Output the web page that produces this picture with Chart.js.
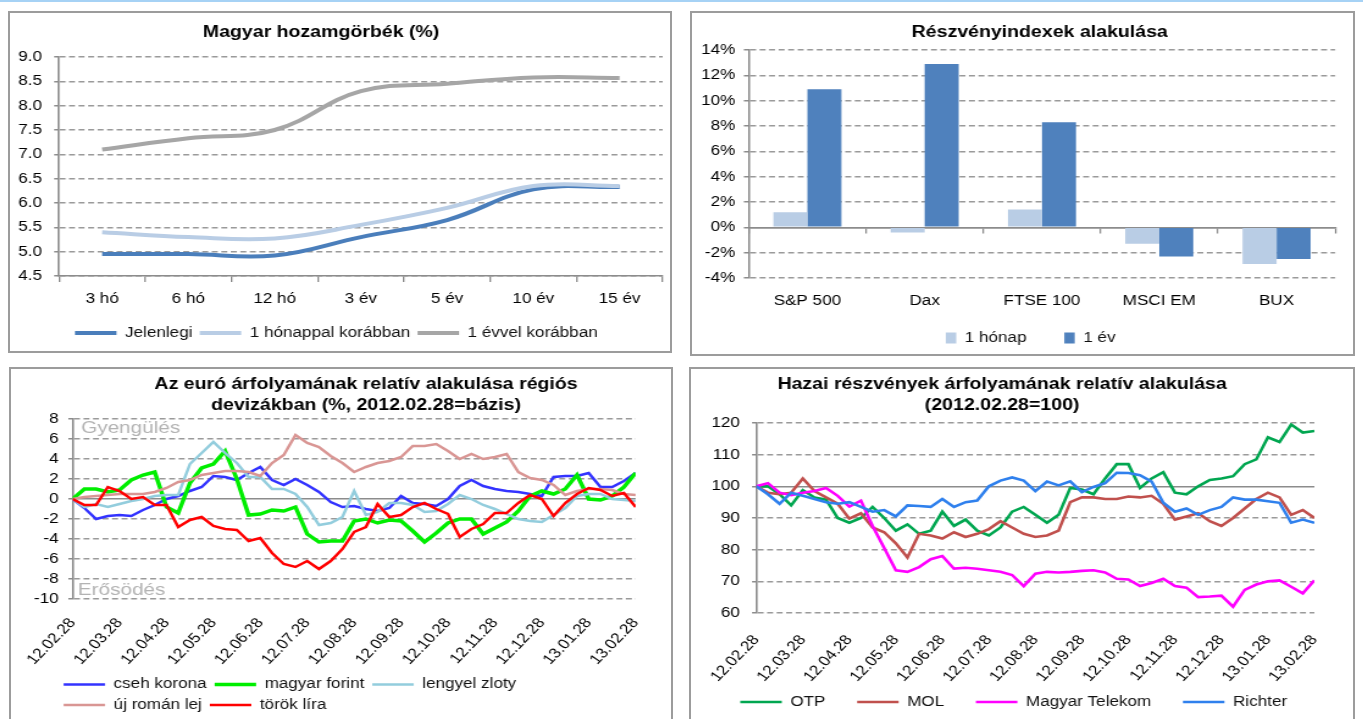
<!DOCTYPE html>
<html lang="hu">
<head>
<meta charset="utf-8">
<title>Piaci grafikonok</title>
<script src="https://cdn.jsdelivr.net/npm/chart.js@4.4.1/dist/chart.umd.min.js"></script>
<style>
  html, body { margin: 0; padding: 0; background: #fff; }
  body { width: 1363px; height: 719px; position: relative; overflow: hidden; }
  .topline { position: absolute; left: 0; top: 0; width: 1363px; height: 2px; background: #a6d2f5; }
  .panel { position: absolute; border: 2px solid #9c9c9c; box-sizing: border-box; overflow: hidden; background: #fff; }
  /* the source picture is drawn wide, so each canvas is stretched sideways */
  .stretch { position: absolute; left: 0; top: 0; transform-origin: 0 0; transform: scaleX(1.22); }
  canvas { display: block; }
</style>
</head>
<body>
<div class="topline"></div>
<div class="panel" style="left:8px;top:11px;width:664px;height:342px"><div class="stretch"><canvas id="yieldChart" width="541" height="338"></canvas></div></div>
<div class="panel" style="left:690px;top:11px;width:665px;height:345px"><div class="stretch"><canvas id="indexChart" width="542" height="341"></canvas></div></div>
<div class="panel" style="left:9px;top:367px;width:664px;height:360px"><div class="stretch"><canvas id="fxChart" width="541" height="356"></canvas></div></div>
<div class="panel" style="left:689px;top:367px;width:666px;height:360px"><div class="stretch"><canvas id="stockChart" width="543" height="356"></canvas></div></div>

<script>
// yield curves
const tenors = ['3 hó', '6 hó', '12 hó', '3 év', '5 év', '10 év', '15 év'];
const yieldNow = [4.95, 4.95, 4.92, 5.3, 5.65, 6.28, 6.33];
const yieldMonthAgo = [5.4, 5.3, 5.27, 5.55, 5.9, 6.35, 6.35];
const yieldYearAgo = [7.1, 7.33, 7.5, 8.3, 8.45, 8.58, 8.57];

// stock indices (%)
const indexNames = ['S&P 500', 'Dax', 'FTSE 100', 'MSCI EM', 'BUX'];
const indexMonth = [1.2, -0.4, 1.4, -1.3, -2.9];
const indexYear = [10.9, 12.9, 8.3, -2.3, -2.5];

// time axis: months after 2012.02.28
const monthTicks = [0, 1, 2, 3, 4, 5, 6, 7, 8, 9, 10, 11, 12];
const monthLabels = ['12.02.28', '12.03.28', '12.04.28', '12.05.28', '12.06.28', '12.07.28',
  '12.08.28', '12.09.28', '12.10.28', '12.11.28', '12.12.28', '13.01.28', '13.02.28'];
const sampleMonths = [0, 0.25, 0.5, 0.75, 1, 1.25, 1.5, 1.75, 2, 2.25, 2.5, 2.75,
  3, 3.25, 3.5, 3.75, 4, 4.25, 4.5, 4.75, 5, 5.25, 5.5, 5.75,
  6, 6.25, 6.5, 6.75, 7, 7.25, 7.5, 7.75, 8, 8.25, 8.5, 8.75,
  9, 9.25, 9.5, 9.75, 10, 10.25, 10.5, 10.75, 11, 11.25, 11.5, 11.75, 12];

// euro vs regional currencies (%)
const fxCzk = [0, -0.9, -2.0, -1.7, -1.6, -1.7, -1.1, -0.6, 0.0, 0.3, 0.8, 1.2,
  2.3, 2.2, 1.9, 2.6, 3.2, 1.9, 1.4, 2.0, 1.4, 0.7, -0.3, -0.8,
  -0.7, -1.0, -1.2, -0.9, 0.3, -0.4, -0.5, -0.7, 0.0, 1.3, 1.9, 1.3,
  1.0, 0.8, 0.7, 0.5, 0.3, 2.2, 2.3, 2.3, 2.6, 1.2, 1.2, 1.8, 2.6];
const fxHuf = [0, 1.0, 1.0, 0.7, 0.9, 1.9, 2.4, 2.7, -0.8, -1.4, 1.6, 3.1,
  3.5, 4.8, 2.0, -1.6, -1.5, -1.1, -1.2, -0.8, -3.5, -4.3, -4.2, -4.2,
  -2.2, -2.0, -2.4, -2.1, -2.2, -3.2, -4.3, -3.4, -2.4, -2.0, -2.0, -3.5,
  -2.9, -2.3, -1.2, 0.3, 0.8, 0.5, 1.0, 2.4, 0.0, -0.1, 0.3, 1.2, 2.6];
const fxPln = [0, -0.8, -0.5, -0.8, -0.5, -0.2, 0.0, 0.3, 0.4, 0.4, 3.5, 4.6,
  5.7, 4.6, 3.6, 2.2, 2.2, 1.0, 1.0, 0.5, -0.8, -2.6, -2.4, -1.8,
  0.8, -1.6, -1.3, -0.4, -0.4, -0.6, -1.3, -1.2, -0.5, 0.4, 0.0, -0.6,
  -1.0, -1.5, -2.0, -2.2, -2.3, -1.6, -0.9, 0.3, 0.5, 0.5, 0.0, -0.1, -0.2];
const fxRon = [0, 0.2, 0.3, 0.4, 0.5, 0.5, 0.5, 0.7, 1.1, 1.7, 1.9, 2.4,
  2.6, 2.8, 2.8, 2.7, 2.3, 3.6, 4.4, 6.4, 5.6, 5.2, 4.3, 3.6,
  2.7, 3.2, 3.6, 3.8, 4.2, 5.3, 5.3, 5.5, 4.8, 4.0, 4.5, 4.0,
  4.2, 4.5, 2.7, 2.1, 1.9, 1.4, 0.4, 0.8, 1.0, 1.0, 0.9, 0.5, 0.4];
const fxTry = [0, -0.6, -0.6, 1.2, 0.8, 0.0, 0.2, -0.6, -0.6, -2.8, -2.1, -1.8,
  -2.7, -3.0, -3.1, -4.2, -3.9, -5.4, -6.5, -6.8, -6.2, -7.0, -6.2, -5.0,
  -3.3, -2.8, -0.5, -1.8, -1.6, -0.8, -0.4, -1.0, -1.5, -3.8, -3.0, -2.5,
  -1.4, -1.4, -0.4, 0.4, 0.0, -1.7, -0.4, 0.5, 1.1, 0.9, 0.3, 0.6, -0.8];

// domestic shares (2012.02.28 = 100)
const stockOtp = [100, 100, 97.5, 94.0, 98.8, 96.5, 95.8, 90.0, 88.5, 90.0, 93.5, 90.0,
  86.0, 88.0, 85.0, 86.0, 92.0, 87.5, 89.5, 86.0, 84.5, 87.0, 92.0, 93.5,
  91.0, 88.5, 91.0, 99.5, 99.0, 97.5, 102.5, 107.0, 107.0, 99.5, 102.5, 104.5,
  98.0, 97.5, 100.0, 102.0, 102.5, 103.2, 107.0, 108.5, 115.5, 114.0, 119.5, 117.0, 117.5];
const stockMol = [100, 98.0, 97.5, 98.0, 102.5, 98.5, 96.5, 94.5, 89.8, 91.5, 87.0, 85.5,
  82.0, 77.5, 85.0, 84.5, 83.5, 85.5, 84.0, 85.0, 86.5, 89.0, 87.0, 85.0,
  84.0, 84.5, 86.0, 95.0, 96.5, 96.5, 96.0, 96.0, 96.8, 96.5, 97.0, 94.5,
  89.5, 90.5, 91.5, 89.0, 87.5, 90.0, 93.0, 96.0, 98.0, 96.5, 91.0, 92.5, 90.0];
const stockMtel = [100, 101.0, 98.0, 97.2, 98.0, 98.5, 99.5, 97.0, 93.6, 95.5, 87.5, 80.5,
  73.5, 73.0, 74.5, 77.0, 78.0, 74.0, 74.3, 74.0, 73.5, 73.0, 72.0, 68.5,
  72.4, 73.0, 72.8, 73.0, 73.3, 73.5, 72.8, 70.8, 70.6, 68.5, 69.5, 70.8,
  68.5, 68.0, 65.0, 65.2, 65.5, 62.0, 67.3, 69.0, 70.0, 70.3, 68.3, 66.2, 70.3];
const stockRichter = [100, 97.5, 94.5, 98.0, 97.0, 96.0, 95.0, 94.5, 95.0, 93.5, 92.0, 92.5,
  90.5, 94.0, 93.8, 93.5, 96.0, 93.5, 95.0, 95.5, 100.0, 101.8, 102.8, 101.8,
  98.5, 101.5, 100.3, 101.6, 98.2, 99.8, 101.0, 104.3, 104.2, 103.5, 101.5, 94.8,
  92.0, 93.0, 91.0, 92.5, 93.5, 96.5, 95.8, 95.8, 95.3, 94.8, 88.5, 89.5, 88.5];

Chart.defaults.font.family = '"Liberation Sans", Arial, sans-serif';
Chart.defaults.font.size = 14;
Chart.defaults.color = '#000';
Chart.defaults.animation = false;
Chart.defaults.responsive = false;
Chart.defaults.devicePixelRatio = 1;
Chart.defaults.plugins.tooltip.enabled = false;
Chart.defaults.elements.point.radius = 0;

const GRID = '#9a9a9a';
const AXIS = '#8c8c8c';
const DASH = [4.9, 2.9];

const toPoints = vals => sampleMonths.map((m, i) => ({x: m, y: vals[i]}));
const byIndex = (a, b) => a.datasetIndex - b.datasetIndex;
const solidAt = base => ctx => (ctx.tick && ctx.tick.value === base) ? [] : DASH;
const colorAt = base => ctx => (ctx.tick && ctx.tick.value === base) ? AXIS : GRID;

// chart titles, placed where the original puts them
const panelTitle = {
  id: 'panelTitle',
  afterDraw(chart, args, opts) {
    const ctx = chart.ctx;
    ctx.save();
    ctx.font = 'bold 16px "Liberation Sans", Arial, sans-serif';
    ctx.fillStyle = '#000';
    ctx.textAlign = 'center';
    ctx.textBaseline = 'middle';
    opts.lines.forEach((t, i) => ctx.fillText(t, opts.x, opts.y + i * opts.gap));
    ctx.restore();
  }
};

// move / stretch the legend box after layout (it may overlap the tick label band)
const legendNudge = {
  id: 'legendNudge',
  afterLayout(chart, args, opts) {
    const l = chart.legend;
    if (!l) return;
    l.left += opts.dx || 0;
    l.right += opts.dx || 0;
    l.top += opts.dTop || 0;
    l.bottom += opts.dBottom || 0;
  }
};

// grey notes inside the fx chart
const zoneLabels = {
  id: 'zoneLabels',
  beforeDatasetsDraw(chart, args, opts) {
    const {ctx, scales: {x, y}} = chart;
    ctx.save();
    ctx.font = '17px "Liberation Sans", Arial, sans-serif';
    ctx.fillStyle = '#b3b3b3';
    ctx.textBaseline = 'middle';
    opts.items.forEach(it => ctx.fillText(it.text, x.getPixelForValue(it.x), y.getPixelForValue(it.y)));
    ctx.restore();
  }
};

new Chart(document.getElementById('yieldChart'), {
  type: 'line',
  data: {
    labels: tenors,
    datasets: [
      {label: 'Jelenlegi', data: yieldNow, borderColor: '#4a7ebb', backgroundColor: '#4a7ebb', borderWidth: 4, tension: 0.4, order: 3},
      {label: '1 hónappal korábban', data: yieldMonthAgo, borderColor: '#b9cde5', backgroundColor: '#b9cde5', borderWidth: 4, tension: 0.4, order: 2},
      {label: '1 évvel korábban', data: yieldYearAgo, borderColor: '#a6a6a6', backgroundColor: '#a6a6a6', borderWidth: 4, tension: 0.4, order: 1}
    ]
  },
  options: {
    layout: {padding: {left: 0, right: 6, top: 44, bottom: 1}},
    scales: {
      x: {
        offset: true,
        grid: {display: true, drawOnChartArea: false, offset: true, tickLength: 6, color: AXIS, lineWidth: 1.3},
        border: {color: AXIS, width: 1.6},
        ticks: {padding: 9},
        afterFit: s => { s.height = 44; }
      },
      y: {
        min: 4.5, max: 9,
        ticks: {stepSize: 0.5, padding: 10, callback: v => v.toFixed(1)},
        grid: {color: GRID, lineWidth: 1.5, tickLength: 4, tickColor: AXIS},
        border: {color: AXIS, width: 1.6, dash: DASH},
        afterFit: s => { s.width = 40.2; }
      }
    },
    plugins: {
      legend: {position: 'bottom', labels: {boxWidth: 34, boxHeight: 0, padding: 6, color: '#111', sort: byIndex}},
      panelTitle: {lines: ['Magyar hozamgörbék (%)'], x: 255, y: 20, gap: 21}
    }
  },
  plugins: [panelTitle]
});

new Chart(document.getElementById('indexChart'), {
  type: 'bar',
  data: {
    labels: indexNames,
    datasets: [
      {label: '1 hónap', data: indexMonth, backgroundColor: '#b9cde5', borderWidth: 0, categoryPercentage: 0.58, barPercentage: 1},
      {label: '1 év', data: indexYear, backgroundColor: '#4f81bd', borderWidth: 0, categoryPercentage: 0.58, barPercentage: 1}
    ]
  },
  options: {
    layout: {padding: {left: 0, right: 14.8, top: 37, bottom: 3}},
    scales: {
      x: {
        grid: {display: false, drawTicks: false},
        border: {display: false},
        ticks: {padding: 15},
        afterFit: s => { s.height = 33; }
      },
      x2: {
        type: 'category', axis: 'x', position: {y: 0}, offset: true,
        ticks: {display: false},
        grid: {drawOnChartArea: false, offset: true, tickLength: 5, color: AXIS, lineWidth: 1.3},
        border: {color: AXIS, width: 1.6}
      },
      y: {
        min: -4, max: 14,
        ticks: {stepSize: 2, padding: 7, callback: v => v + '%'},
        grid: {color: colorAt(0), lineWidth: 1.5, tickLength: 4, tickColor: AXIS},
        border: {color: AXIS, width: 1.6, dash: solidAt(0)},
        afterFit: s => { s.width = 46.5; }
      }
    },
    plugins: {
      legend: {position: 'bottom', maxHeight: 40, labels: {boxWidth: 8.5, boxHeight: 11, padding: 31, color: '#111'}},
      legendNudge: {dx: 14, dTop: -11},
      panelTitle: {lines: ['Részvényindexek alakulása'], x: 285, y: 19.5, gap: 21}
    }
  },
  plugins: [panelTitle, legendNudge]
});

const timeAxis = (height, pad) => ({
  type: 'linear', min: 0, max: 12,
  afterBuildTicks: s => { s.ticks = monthTicks.map(v => ({value: v})); },
  ticks: {autoSkip: false, minRotation: 50.7, maxRotation: 50.7, padding: pad, callback: (v, i) => monthLabels[i]},
  grid: {display: false, drawTicks: false},
  border: {display: false},
  afterFit: s => { s.height = height; }
});

new Chart(document.getElementById('fxChart'), {
  type: 'line',
  data: {
    datasets: [
      {label: 'cseh korona', data: toPoints(fxCzk), borderColor: '#3333ff', backgroundColor: '#3333ff', borderWidth: 2.5, order: 5},
      {label: 'magyar forint', data: toPoints(fxHuf), borderColor: '#00ee00', backgroundColor: '#00ee00', borderWidth: 3.5, order: 4},
      {label: 'lengyel zloty', data: toPoints(fxPln), borderColor: '#93cddd', backgroundColor: '#93cddd', borderWidth: 2.5, order: 3},
      {label: 'új román lej', data: toPoints(fxRon), borderColor: '#d99694', backgroundColor: '#d99694', borderWidth: 2.5, order: 2},
      {label: 'török líra', data: toPoints(fxTry), borderColor: '#ff0000', backgroundColor: '#ff0000', borderWidth: 2.5, order: 1}
    ]
  },
  options: {
    layout: {padding: {left: 8, right: 18, top: 50, bottom: 3}},
    scales: {
      x: timeAxis(72, 16),
      y: {
        min: -10, max: 8,
        ticks: {stepSize: 2, padding: 8},
        grid: {color: colorAt(0), lineWidth: 1.5, tickLength: 3.5, tickColor: AXIS},
        border: {color: AXIS, width: 1.6, dash: solidAt(0)},
        afterFit: s => { s.width = 38.7; }
      }
    },
    plugins: {
      legend: {position: 'bottom', align: 'start', fullSize: false, labels: {boxWidth: 34, boxHeight: 0, padding: 6.5, color: '#111', sort: byIndex}},
      legendNudge: {dx: -13.9},
      panelTitle: {lines: ['Az euró árfolyamának relatív alakulása régiós', 'devizákban (%, 2012.02.28=bázis)'], x: 291, y: 16, gap: 21},
      zoneLabels: {items: [{text: 'Gyengülés', x: 0.18, y: 7.1}, {text: 'Erősödés', x: 0.11, y: -9.1}]}
    }
  },
  plugins: [panelTitle, legendNudge, zoneLabels]
});

new Chart(document.getElementById('stockChart'), {
  type: 'line',
  data: {
    datasets: [
      {label: 'OTP', data: toPoints(stockOtp), borderColor: '#00a650', backgroundColor: '#00a650', borderWidth: 2.6, order: 4},
      {label: 'MOL', data: toPoints(stockMol), borderColor: '#c0504d', backgroundColor: '#c0504d', borderWidth: 2.6, order: 3},
      {label: 'Magyar Telekom', data: toPoints(stockMtel), borderColor: '#ff00ff', backgroundColor: '#ff00ff', borderWidth: 2.6, order: 2},
      {label: 'Richter', data: toPoints(stockRichter), borderColor: '#2f80ed', backgroundColor: '#2f80ed', borderWidth: 2.6, order: 1}
    ]
  },
  options: {
    layout: {padding: {left: 0, right: 20, top: 54, bottom: 2}},
    scales: {
      x: timeAxis(70, 19),
      y: {
        min: 60, max: 120,
        ticks: {stepSize: 10, padding: 10},
        grid: {color: colorAt(100), lineWidth: 1.5, tickLength: 3.5, tickColor: AXIS},
        border: {color: AXIS, width: 1.6, dash: solidAt(100)},
        afterFit: s => { s.width = 50.8; }
      }
    },
    plugins: {
      legend: {position: 'bottom', maxHeight: 40, labels: {boxWidth: 34, boxHeight: 0, padding: 26, color: '#111', sort: byIndex}},
      legendNudge: {dx: 3, dTop: -14, dBottom: -14},
      panelTitle: {lines: ['Hazai részvények árfolyamának relatív alakulása', '(2012.02.28=100)'], x: 255, y: 16, gap: 21}
    }
  },
  plugins: [panelTitle, legendNudge]
});
</script>
</body>
</html>
